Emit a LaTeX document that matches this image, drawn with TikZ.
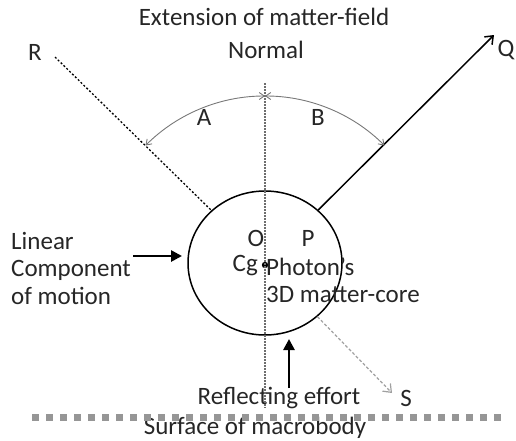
\documentclass[tikz,border=0pt]{standalone}
\usepackage{fontspec}
\setmainfont{Carlito}
\usetikzlibrary{arrows.meta,positioning,shapes.geometric,calc}
\definecolor{normgray}{RGB}{110,110,110}
\definecolor{arcgray}{RGB}{120,120,120}
\definecolor{sgray}{RGB}{160,160,160}
\definecolor{surfgray}{RGB}{150,150,150}

\begin{document}
\begin{tikzpicture}[
        x=1pt, y=-1pt,
        lbl/.style={font=\fontsize{25}{27.5}\selectfont, inner sep=0pt, text=black!85},
        push/.style={-{Triangle[length=11pt,width=11pt]}, line width=2.6pt},
        angarc/.style={{Straight Barb[length=5pt,width=7pt]}-{Straight Barb[length=5pt,width=7pt]}, draw=arcgray, line width=0.9pt},
        raydash/.style={dash pattern=on 2pt off 2pt, line width=1.3pt}
      ]
        \useasboundingbox (0,0) rectangle (516,440);
        % matter-core and its centre
        \node[draw, ellipse, minimum width=154pt, minimum height=144pt, inner sep=0pt, line width=1.5pt] (core) at (265,263) {};
        \coordinate (cg) at (265,265);
        \fill (cg) circle (3.2pt);
        % labels
        \node[lbl] (ext) at (264,17) {Extension of matter-field};
        \node[lbl] (normal) at (266,50) {Normal};
        \node[lbl] (R) at (35,52) {R};
        \node[lbl] (Q) at (506,50) {Q};
        \node[lbl] (A) at (204,117) {A};
        \node[lbl] (B) at (318,117) {B};
        \node[lbl] (O) at (256,238) {O};
        \node[lbl] (P) at (308,238) {P};
        \node[lbl, anchor=east] (Cg) at (258,266) {Cg};
        \node[lbl, anchor=west, align=left] (photon) at (266,280.5) {Photon’s\\3D matter-core};
        \node[lbl, anchor=west, align=left] (linear) at (11,268) {Linear\\Component\\of motion};
        \node[lbl] (reflect) at (279,398) {Reflecting effort};
        \node[lbl] (S) at (406,398) {S};
        \node[lbl] (surface) at (255,428) {Surface of macrobody};
        % rays
        \coordinate (rEnd) at (55,57);
        \coordinate (qEnd) at (494,35);
        \coordinate (sEnd) at (392,393);
        \draw[raydash] (rEnd) -- (core);
        \draw[-{Straight Barb[length=7pt,width=11pt]}, line width=1.5pt] (core) -- (qEnd);
        \draw[-{Straight Barb[length=7pt,width=11pt]}, draw=sgray, dash pattern=on 3pt off 2pt, line width=1.2pt] (core) -- (sEnd);
        % normal
        \coordinate (nTop) at (265,83);
        \coordinate (nBot) at (265,408);
        \draw[normgray, dash pattern=on 1.5pt off 1.5pt, line width=1.1pt] (nTop) -- (nBot);
        % angles
        \coordinate (arcTop) at ($(cg)+(0,-169)$);
        \draw[angarc] (arcTop) arc[start angle=-90, end angle=-135, radius=169];
        \draw[angarc] (arcTop) arc[start angle=-90, end angle=-45, radius=169];
        % pushes
        \coordinate (pushStart) at (133,256);
        \coordinate (pushEnd) at (182,256);
        \draw[push] (pushStart) -- (pushEnd);
        \coordinate (reflBase) at (289,388);
        \coordinate (reflTip) at (289,339);
        \draw[push] (reflBase) -- (reflTip);
        % surface
        \coordinate (surfL) at (32,417);
        \coordinate (surfR) at (502,417);
        \draw[surfgray, line width=7pt, dash pattern=on 7pt off 7pt] (surfL) -- (surfR);
      \end{tikzpicture}
\end{document}
